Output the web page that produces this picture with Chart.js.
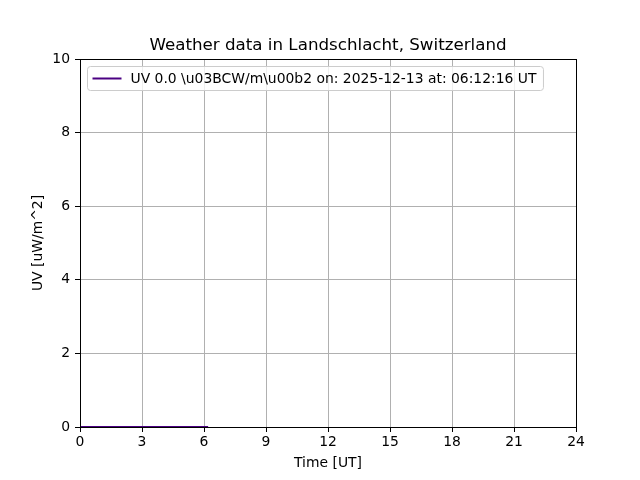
<!DOCTYPE html>
<html>
<head>
<meta charset="utf-8">
<script src="https://cdn.jsdelivr.net/npm/chart.js@4"></script>
<style>
  html, body { margin: 0; padding: 0; background: #fff; }
  #wrap { width: 640px; height: 480px; }
</style>
</head>
<body>
<div id="wrap"><canvas id="uvChart" width="640" height="480"></canvas></div>
<script>
// values
var timeHours = [0.0, 0.5, 1.0, 1.5, 2.0, 2.5, 3.0, 3.5, 4.0, 4.5, 5.0, 5.5, 6.0, 6.2];
var uvValues  = [0, 0, 0, 0, 0, 0, 0, 0, 0, 0, 0, 0, 0, 0];
var xTicks = [0, 3, 6, 9, 12, 15, 18, 21, 24];
var yTicks = [0, 2, 4, 6, 8, 10];
var seriesLabel = 'UV 0.0 \\u03BCW/m\\u00b2 on: 2025-12-13 at: 06:12:16 UT';
var chartTitle = 'Weather data in Landschlacht, Switzerland';

var FONT = 'DejaVu Sans';
var lineColor = '#4b0082';

var points = [];
for (var i = 0; i < timeHours.length; i++) {
    points.push({ x: timeHours[i], y: uvValues[i] });
}

// box around plot area, title over plot centre, legend inside (matplotlib look)
var frameAndLegend = {
    id: 'frameAndLegend',
    afterDatasetsDraw: function (chart) {
        var ctx = chart.ctx;
        var a = chart.chartArea;
        ctx.save();
        ctx.strokeStyle = '#000';
        ctx.lineWidth = 1;
        ctx.strokeRect(Math.round(a.left) + 0.5, Math.round(a.top) + 0.5,
            Math.round(a.right - a.left), Math.round(a.bottom - a.top));

        // title
        ctx.fillStyle = '#000';
        ctx.font = '16.7px "' + FONT + '"';
        ctx.textAlign = 'center';
        ctx.textBaseline = 'alphabetic';
        ctx.fillText(chartTitle, (a.left + a.right) / 2, a.top - 9);

        // legend
        ctx.font = '13.9px "' + FONT + '"';
        var text = chart.data.datasets[0].label;
        var tw = ctx.measureText(text).width;
        var bx = a.left + 7.5, by = a.top + 7.5;
        var bw = 44 + tw + 6, bh = 24;
        var r = 3;
        ctx.beginPath();
        ctx.moveTo(bx + r, by);
        ctx.lineTo(bx + bw - r, by);
        ctx.quadraticCurveTo(bx + bw, by, bx + bw, by + r);
        ctx.lineTo(bx + bw, by + bh - r);
        ctx.quadraticCurveTo(bx + bw, by + bh, bx + bw - r, by + bh);
        ctx.lineTo(bx + r, by + bh);
        ctx.quadraticCurveTo(bx, by + bh, bx, by + bh - r);
        ctx.lineTo(bx, by + r);
        ctx.quadraticCurveTo(bx, by, bx + r, by);
        ctx.closePath();
        ctx.fillStyle = 'rgba(255,255,255,0.8)';
        ctx.fill();
        ctx.strokeStyle = '#cccccc';
        ctx.stroke();

        ctx.beginPath();
        ctx.strokeStyle = lineColor;
        ctx.lineWidth = 2;
        ctx.moveTo(bx + 5, by + bh / 2);
        ctx.lineTo(bx + 34, by + bh / 2);
        ctx.stroke();

        ctx.fillStyle = '#000';
        ctx.textBaseline = 'middle';
        ctx.textAlign = 'left';
        ctx.fillText(text, bx + 43, by + bh / 2 + 0.5);
        ctx.restore();
    }
};

new Chart(document.getElementById('uvChart'), {
    type: 'line',
    data: {
        datasets: [{
            label: seriesLabel,
            data: points,
            borderColor: lineColor,
            backgroundColor: lineColor,
            borderWidth: 2,
            pointRadius: 0,
            fill: false,
            tension: 0,
            clip: false
        }]
    },
    options: {
        responsive: false,
        animation: false,
        layout: { padding: { left: 0, right: 64, top: 59, bottom: 0 } },
        plugins: {
            legend: { display: false },
            tooltip: { enabled: false },
            title: { display: false }
        },
        scales: {
            x: {
                type: 'linear',
                min: 0,
                max: 24,
                afterBuildTicks: function (axis) {
                    axis.ticks = xTicks.map(function (v) { return { value: v }; });
                },
                afterFit: function (axis) { axis.height = 53; },
                grid: { color: '#b0b0b0', lineWidth: 1, tickColor: '#000', tickLength: 5 },
                border: { color: '#000', width: 1 },
                ticks: { color: '#000', font: { family: FONT, size: 13.9 }, padding: 2, maxRotation: 0 },
                title: {
                    display: true, text: 'Time [UT]', color: '#000',
                    font: { family: FONT, size: 13.9 }, padding: { top: 0, bottom: 8 }
                }
            },
            y: {
                min: 0,
                max: 10,
                afterBuildTicks: function (axis) {
                    axis.ticks = yTicks.map(function (v) { return { value: v }; });
                },
                afterFit: function (axis) { axis.width = 80; },
                grid: { color: '#b0b0b0', lineWidth: 1, tickColor: '#000', tickLength: 5 },
                border: { color: '#000', width: 1 },
                ticks: { color: '#000', font: { family: FONT, size: 13.9 }, padding: 5 },
                title: {
                    display: true, text: 'UV [uW/m^2]', color: '#000',
                    font: { family: FONT, size: 13.9 }, padding: { top: 30, bottom: 0 }
                }
            }
        }
    },
    plugins: [frameAndLegend]
});
</script>
</body>
</html>
